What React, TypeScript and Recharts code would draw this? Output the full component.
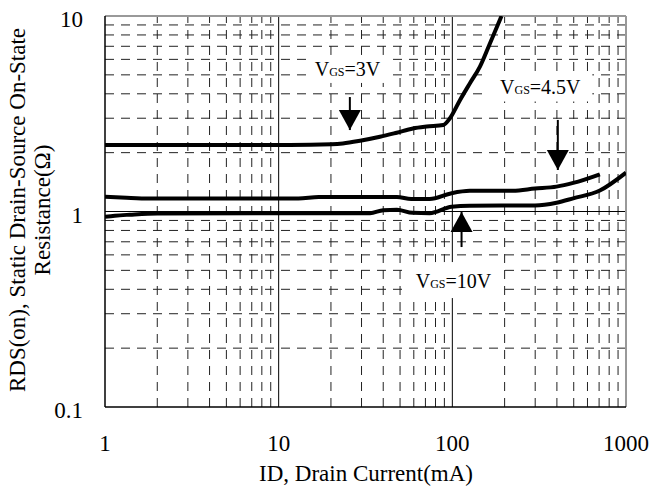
import React from 'react';
import { ComposedChart, Line, XAxis, YAxis, ReferenceLine, ReferenceDot } from 'recharts';

const FONT = '"Liberation Serif", "Times New Roman", serif';

// axis ticks
const xTicks = [1, 10, 100, 1000];
const yTicks = [0.1, 1, 10];
// grid values
const xMinor = [2, 3, 4, 5, 6, 7, 8, 9, 20, 30, 40, 50, 60, 70, 80, 90, 200, 300, 400, 500, 600, 700, 800, 900];
const xMajor = [10, 100];
const yMinor = [0.2, 0.3, 0.4, 0.5, 0.6, 0.7, 0.8, 0.9, 2, 3, 4, 5, 6, 7, 8, 9];
const yMajor = [1];

// series: ID (mA) vs RDS(on) (ohm)
const vgs3 = [
  { x: 1, y: 2.19 },
  { x: 11.6, y: 2.19 },
  { x: 20.2, y: 2.21 },
  { x: 23.4, y: 2.23 },
  { x: 29.4, y: 2.3 },
  { x: 38.3, y: 2.41 },
  { x: 47.8, y: 2.53 },
  { x: 59.3, y: 2.66 },
  { x: 71.1, y: 2.72 },
  { x: 88.7, y: 2.77 },
  { x: 96.9, y: 3.0 },
  { x: 110.6, y: 3.71 },
  { x: 126.3, y: 4.53 },
  { x: 144.2, y: 5.51 },
  { x: 164.6, y: 7.24 },
  { x: 192, y: 10 },
];

const vgs45 = [
  { x: 1, y: 1.19 },
  { x: 1.33, y: 1.175 },
  { x: 1.8, y: 1.165 },
  { x: 13, y: 1.165 },
  { x: 17, y: 1.185 },
  { x: 48, y: 1.185 },
  { x: 58, y: 1.158 },
  { x: 74, y: 1.158 },
  { x: 99, y: 1.24 },
  { x: 126, y: 1.275 },
  { x: 223, y: 1.278 },
  { x: 299, y: 1.31 },
  { x: 398, y: 1.34 },
  { x: 497, y: 1.4 },
  { x: 707, y: 1.55 },
];

const vgs10 = [
  { x: 1, y: 0.94 },
  { x: 1.14, y: 0.952 },
  { x: 1.39, y: 0.963 },
  { x: 2, y: 0.977 },
  { x: 33.6, y: 0.98 },
  { x: 40, y: 1.015 },
  { x: 48, y: 1.02 },
  { x: 59, y: 0.984 },
  { x: 74, y: 0.98 },
  { x: 99, y: 1.058 },
  { x: 126, y: 1.071 },
  { x: 299, y: 1.074 },
  { x: 398, y: 1.109 },
  { x: 497, y: 1.168 },
  { x: 707, y: 1.28 },
  { x: 1000, y: 1.58 },
];

// annotations (data coordinates)
const labels = [
  { x: 24.9, y: 5.36, rest: '=3V', w: 80, h: 28 },
  { x: 321, y: 4.36, rest: '=4.5V', w: 104, h: 30 },
  { x: 101.5, y: 0.446, rest: '=10V', w: 96, h: 36 },
];
const arrows = [
  { x: 25.7, tail: 3.85, tip: 2.61, dir: 'down' },
  { x: 405, tail: 2.94, tip: 1.63, dir: 'down' },
  { x: 113, tail: 0.658, tip: 0.994, dir: 'up' },
];

const XTick = (props: any) => {
  const { x, y, payload } = props;
  return (
    <text x={x} y={y + 44} textAnchor="middle" fontFamily={FONT} fontSize={23} fill="#000">
      {String(payload.value)}
    </text>
  );
};

const YTick = (props: any) => {
  const { x, y, payload } = props;
  return (
    <text x={x - 22} y={y + 11} textAnchor="end" fontFamily={FONT} fontSize={23} fill="#000">
      {String(payload.value)}
    </text>
  );
};

const makeLabel = (rest: string, w: number, h: number) => (props: any) => {
  const { cx, cy } = props;
  return (
    <g>
      <rect x={cx - w / 2} y={cy - h / 2} width={w} height={h} fill="#fff" />
      <text x={cx} y={cy + 7.5} textAnchor="middle" fontFamily={FONT} fontSize={20} fill="#000">
        V<tspan fontSize={12}>GS</tspan>{rest}
      </text>
    </g>
  );
};

const makeHead = (dir: string) => (props: any) => {
  const { cx, cy } = props;
  const s = dir === 'down' ? -1 : 1;
  const pts = `${cx},${cy} ${cx - 11},${cy + s * 20} ${cx + 11},${cy + s * 20}`;
  return <polygon points={pts} fill="#000" />;
};

export default function App() {
  const dash = '9 7';
  return (
    <div style={{ position: 'fixed', left: 0, top: 0, width: 650, height: 488, background: '#fff' }}>
      <ComposedChart width={650} height={488} margin={{ top: 16, right: 24, left: 0, bottom: 0 }}>
        <XAxis
          dataKey="x"
          type="number"
          scale="log"
          domain={[1, 1000]}
          ticks={xTicks}
          allowDataOverflow
          height={81}
          tickLine={false}
          tickSize={0}
          tickMargin={0}
          axisLine={{ stroke: '#000', strokeWidth: 1.5 }}
          tick={<XTick />}
          interval={0}
        />
        <YAxis
          dataKey="y"
          type="number"
          scale="log"
          domain={[0.1, 10]}
          ticks={yTicks}
          allowDataOverflow
          width={105}
          tickLine={false}
          tickSize={0}
          tickMargin={0}
          axisLine={{ stroke: '#000', strokeWidth: 1.5 }}
          tick={<YTick />}
          interval={0}
        />
        {xMinor.map((v) => (
          <ReferenceLine key={'xm' + v} x={v} stroke="#222" strokeWidth={1} strokeDasharray={dash} zIndex={-50} />
        ))}
        {yMinor.map((v) => (
          <ReferenceLine key={'ym' + v} y={v} stroke="#222" strokeWidth={1} strokeDasharray={dash} zIndex={-50} />
        ))}
        {xMajor.map((v) => (
          <ReferenceLine key={'xM' + v} x={v} stroke="#000" strokeWidth={1} zIndex={-40} />
        ))}
        {yMajor.map((v) => (
          <ReferenceLine key={'yM' + v} y={v} stroke="#000" strokeWidth={1} zIndex={-40} />
        ))}
        <ReferenceLine x={1000} stroke="#999" strokeWidth={2} zIndex={-30} />
        <ReferenceLine y={10} stroke="#999" strokeWidth={2} zIndex={-30} />
        {labels.map((l, i) => (
          <ReferenceDot key={'lb' + i} x={l.x} y={l.y} r={1} shape={makeLabel(l.rest, l.w, l.h)} zIndex={-20} />
        ))}
        <Line data={vgs3} dataKey="y" type="monotone" stroke="#000" strokeWidth={4} dot={false} isAnimationActive={false} />
        <Line data={vgs45} dataKey="y" type="monotone" stroke="#000" strokeWidth={4} dot={false} isAnimationActive={false} />
        <Line data={vgs10} dataKey="y" type="monotone" stroke="#000" strokeWidth={4} dot={false} isAnimationActive={false} />
        {arrows.map((a, i) => (
          <ReferenceLine
            key={'as' + i}
            segment={[{ x: a.x, y: a.tail }, { x: a.x, y: a.tip }]}
            stroke="#000"
            strokeWidth={2}
            zIndex={600}
          />
        ))}
        {arrows.map((a, i) => (
          <ReferenceDot key={'ah' + i} x={a.x} y={a.tip} r={1} shape={makeHead(a.dir)} zIndex={600} />
        ))}
      </ComposedChart>
      <svg width={650} height={488} style={{ position: 'absolute', left: 0, top: 0, pointerEvents: 'none' }}>
        <text x={366} y={481} textAnchor="middle" fontFamily={FONT} fontSize={23} fill="#000">
          ID, Drain Current(mA)
        </text>
        <text x={25} y={210} transform="rotate(-90, 25, 210)" textAnchor="middle" fontFamily={FONT} fontSize={23} fill="#000">
          RDS(on), Static Drain-Source On-State
        </text>
        <text x={50} y={210} transform="rotate(-90, 50, 210)" textAnchor="middle" fontFamily={FONT} fontSize={23} fill="#000">
          Resistance(Ω)
        </text>
      </svg>
    </div>
  );
}
